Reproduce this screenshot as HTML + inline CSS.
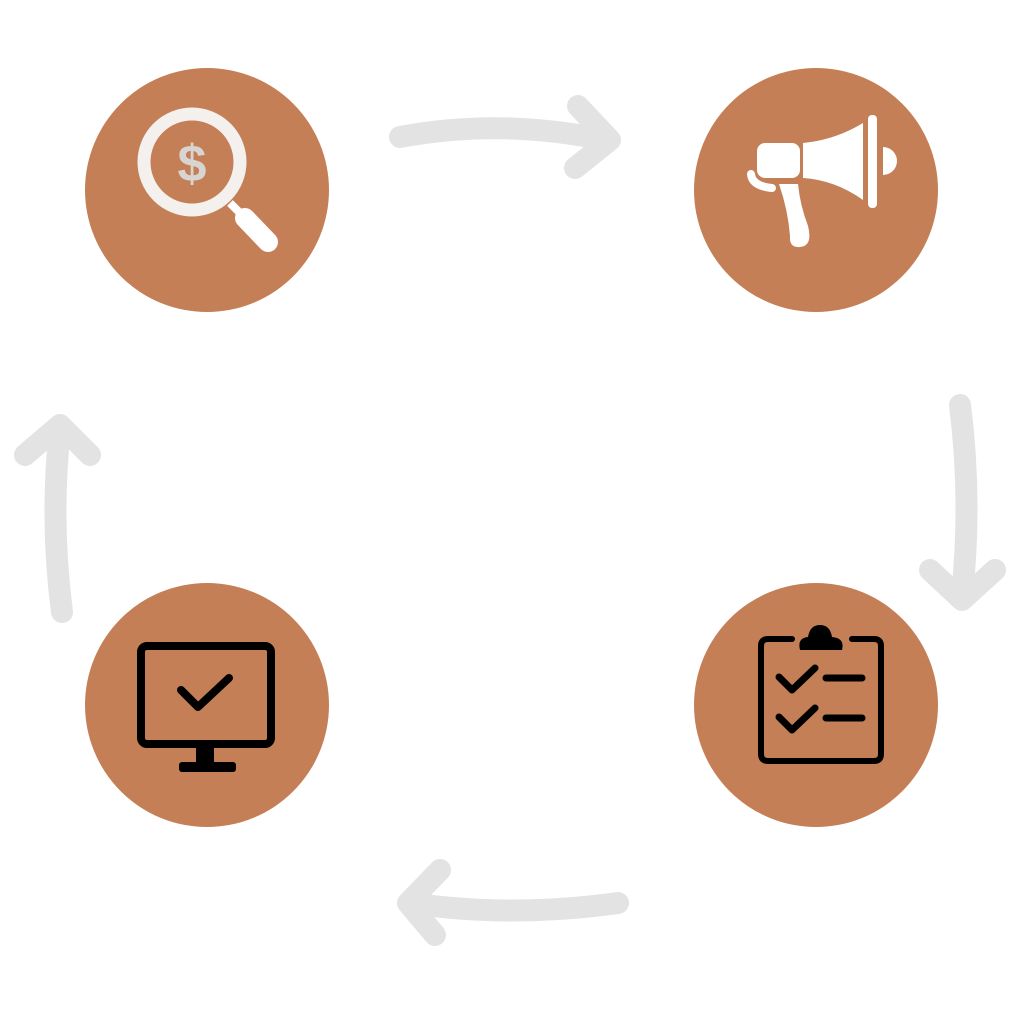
<!DOCTYPE html>
<html><head><meta charset="utf-8"><style>
html,body{margin:0;padding:0;background:#fff;width:1024px;height:1024px;overflow:hidden}
</style></head><body>
<svg width="1024" height="1024" viewBox="0 0 1024 1024" xmlns="http://www.w3.org/2000/svg">
<g fill="#C47F57">
<circle cx="207" cy="190" r="122"/>
<circle cx="816" cy="190" r="122"/>
<circle cx="207" cy="705" r="122"/>
<circle cx="816" cy="705" r="122"/>
</g>
<g fill="none" stroke="#e3e3e3" stroke-width="22" stroke-linecap="round" stroke-linejoin="round">
<path d="M400 137 Q500 118 605 140"/>
<path d="M578 106 L610 140 L575 168"/>
<path d="M960 405 Q972 500 962 595"/>
<path d="M930 570 L962 600 L995 570"/>
<path d="M618 903 Q510 918 410 903"/>
<path d="M440 870 L408 903 L435 935"/>
<path d="M62 612 Q50 520 60 428"/>
<path d="M25 455 L60 425 L90 455"/>
</g>
<!-- magnifier -->
<circle cx="192" cy="162" r="48" fill="none" stroke="#f4f0ee" stroke-width="13"/>
<line x1="245" y1="218" x2="268" y2="242" stroke="#fff" stroke-width="20" stroke-linecap="round"/>
<line x1="230" y1="203" x2="245" y2="218" stroke="#fff" stroke-width="8"/>
<text x="192" y="181" text-anchor="middle" font-family="Liberation Sans, sans-serif" font-size="52" font-weight="bold" fill="#d8d4d2">$</text>
<!-- megaphone -->
<g fill="#fff">
<rect x="757" y="143" width="43" height="35" rx="8"/>
<path d="M803 143 Q835 140 863 123 L863 200 Q835 180 803 178 Z"/>
<rect x="868" y="115" width="9" height="93" rx="4"/>
<path d="M883 147 A14 14 0 0 1 883 175 Z"/>
<path d="M779 184 L798 184 Q800 205 808 226 Q813 246 800 247 Q789 248 790 236 Q788 210 779 184 Z"/>
</g>
<path d="M751 174 Q752 186 772 188" fill="none" stroke="#fff" stroke-width="8" stroke-linecap="round"/>
<!-- monitor -->
<g fill="none" stroke="#000" stroke-linecap="round" stroke-linejoin="round">
<rect x="141" y="646" width="130" height="98" rx="6" stroke-width="8"/>
<path d="M181 690 L198 707 L229 678" stroke-width="8"/>
</g>
<rect x="196" y="746" width="18" height="18" fill="#000"/>
<rect x="179" y="762" width="57" height="10" rx="3" fill="#000"/>
<!-- clipboard -->
<g fill="none" stroke="#000" stroke-linecap="round" stroke-linejoin="round">
<path d="M792 639 L768 639 Q761 639 761 646 L761 754 Q761 761 768 761 L874 761 Q881 761 881 754 L881 646 Q881 639 874 639 L852 639" stroke-width="6"/>
<path d="M779 677 L792 690 L815 668" stroke-width="7"/>
<path d="M826 678 L862 678" stroke-width="7"/>
<path d="M779 717 L792 730 L815 708" stroke-width="7"/>
<path d="M826 718 L862 718" stroke-width="7"/>
</g>
<path d="M800 650 L842 650 Q845 638 832 637 Q830 625 820 625 Q810 625 808 637 Q797 638 800 650 Z" fill="#000"/>
</svg>
</body></html>
